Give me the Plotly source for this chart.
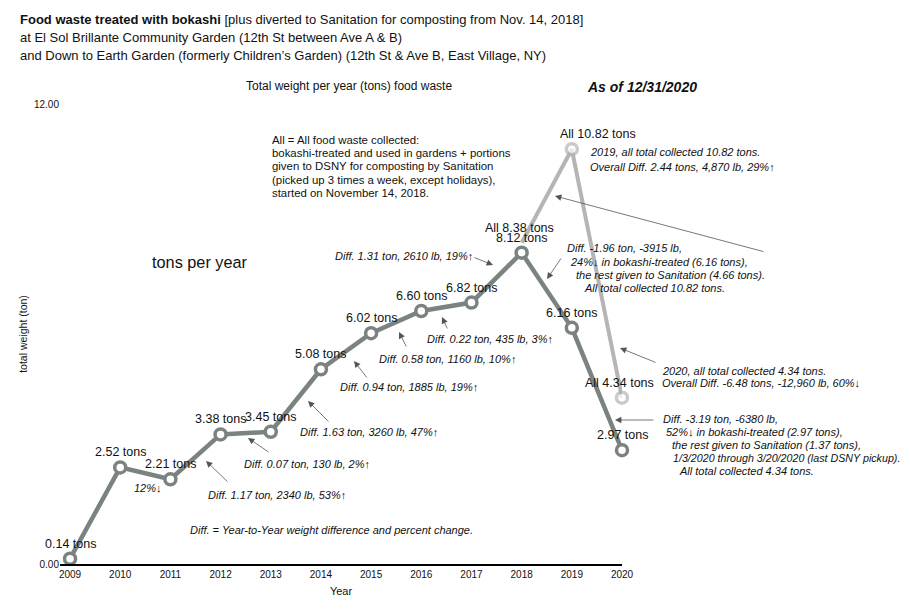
import plotly.graph_objects as go

# ---------------- data ----------------
years = [2009, 2010, 2011, 2012, 2013, 2014, 2015, 2016, 2017, 2018, 2019, 2020]
bokashi_tons = [0.14, 2.52, 2.21, 3.38, 3.45, 5.08, 6.02, 6.60, 6.82, 8.12, 6.16, 2.97]
all_years = [2018, 2019, 2020]
all_tons = [8.38, 10.82, 4.34]
y_ticks = [0, 12]

FONT = "Liberation Sans, Arial, Helvetica, sans-serif"
DARK = "#7b8380"
LIGHT = "#b5b5b5"
ARROW = "#555555"

OFF = 8  # page body margin
W, H = 910 - OFF, 610 - OFF
# pixel geometry of the plot area in window pixels
L, R, T, B = 60, 622, 104, 564
XR = [2008.8, 2020.0]
YR = [0, 12]


def px(x):
    return (x - L) / (R - L)


def py(y):
    return (B - y) / (B - T)


def dx(x):
    return XR[0] + (x - L) / (R - L) * (XR[1] - XR[0])


def dy(y):
    return YR[0] + (B - y) / (B - T) * (YR[1] - YR[0])


fig = go.Figure()

fig.add_trace(go.Scatter(
    x=all_years, y=all_tons, mode="lines+markers",
    line=dict(color=LIGHT, width=4),
    marker=dict(symbol="circle", size=[0, 11, 11], color="white",
                line=dict(color=LIGHT, width=3.5)),
    cliponaxis=False, showlegend=False, hoverinfo="x+y"))

fig.add_trace(go.Scatter(
    x=years, y=bokashi_tons, mode="lines+markers",
    line=dict(color=DARK, width=4.5),
    marker=dict(symbol="circle", size=11, color="white",
                line=dict(color=DARK, width=3.5)),
    cliponaxis=False, showlegend=False, hoverinfo="x+y"))

ann = []
LBL = 12.5

# data labels
for x, v in zip(years, bokashi_tons):
    ann.append(dict(x=x, y=v, xref="x", yref="y", text=f"{v:.2f} tons",
                    showarrow=False, yshift=15, font=dict(size=LBL, color="#111")))
all_xshift = [-2, 26, -3]
for x, v, xs in zip(all_years, all_tons, all_xshift):
    ann.append(dict(x=x, y=v, xref="x", yref="y", text=f"All {v:.2f} tons",
                    showarrow=False, yshift=15, xshift=xs,
                    font=dict(size=LBL, color="#111")))


def txt(x, y, s, size=11, italic=False, bold=False, color="#111"):
    if italic:
        s = f"<i>{s}</i>"
    if bold:
        s = f"<b>{s}</b>"
    ann.append(dict(x=px(x), y=py(y), xref="paper", yref="paper", text=s,
                    showarrow=False, xanchor="left", yanchor="middle",
                    font=dict(size=size, color=color)))


def arrow(x0, y0, x1, y1):
    ann.append(dict(x=dx(x1), y=dy(y1), ax=dx(x0), ay=dy(y0),
                    xref="x", yref="y", axref="x", ayref="y", text="",
                    showarrow=True, arrowhead=2, arrowsize=1.6, arrowwidth=0.8,
                    arrowcolor=ARROW))


# title
txt(18, 20, "<b>Food waste treated with bokashi</b> [plus diverted to Sanitation for composting from Nov. 14, 2018]", 13)
txt(18, 38, "at El Sol Brillante Community Garden (12th St between Ave A & B)", 13)
txt(18, 56, "and Down to Earth Garden (formerly Children’s Garden) (12th St & Ave B, East Village, NY)", 13)

txt(244, 86, "Total weight per year (tons) food waste", 12)
txt(585, 87, "As of 12/31/2020", 14, italic=True, bold=True)
txt(150, 262, "tons per year", 16.3)

block = ["All = All food waste collected:",
         "bokashi-treated and used in gardens + portions",
         "given to DSNY for composting by Sanitation",
         "(picked up 3 times a week, except holidays),",
         "started on November 14, 2018."]
for s, yy in zip(block, [140, 153, 166, 180, 193]):
    txt(270, yy, s, 11.4)

txt(588, 152, "2019, all total collected 10.82 tons.", 11, italic=True)
txt(588, 167, "Overall Diff. 2.44 tons, 4,870 lb, 29%↑", 11, italic=True)

txt(333, 256, "Diff. 1.31 ton, 2610 lb, 19%↑", 11, italic=True)
for s, xx, yy in [("Diff. -1.96 ton, -3915 lb,", 565, 248),
                  ("24%↓ in bokashi-treated (6.16 tons),", 568, 262),
                  ("the rest given to Sanitation (4.66 tons).", 574, 275),
                  ("All total collected 10.82 tons.", 582, 288)]:
    txt(xx, yy, s, 11, italic=True)

txt(425, 339, "Diff. 0.22 ton, 435 lb, 3%↑", 11, italic=True)
txt(377, 359, "Diff. 0.58 ton, 1160 lb, 10%↑", 11, italic=True)
txt(338, 387, "Diff. 0.94 ton, 1885 lb, 19%↑", 11, italic=True)
txt(298, 432, "Diff. 1.63 ton, 3260 lb, 47%↑", 11, italic=True)
txt(242, 464, "Diff. 0.07 ton, 130 lb, 2%↑", 11, italic=True)
txt(206, 495, "Diff. 1.17 ton, 2340 lb, 53%↑", 11, italic=True)
txt(132, 488, "12%↓", 11, italic=True)
txt(188, 530, "Diff. = Year-to-Year weight difference and percent change.", 11, italic=True)

txt(660, 371, "2020, all total collected 4.34 tons.", 11, italic=True)
txt(660, 383, "Overall Diff. -6.48 tons, -12,960 lb, 60%↓", 11, italic=True)
for s, xx, yy, fs in [("Diff. -3.19 ton, -6380 lb,", 661, 419, 11),
                      ("52%↓ in bokashi-treated (2.97 tons),", 664, 432, 11),
                      ("the rest given to Sanitation (1.37 tons),", 670, 445, 11),
                      ("1/3/2020 through 3/20/2020 (last DSNY pickup).", 671, 458, 10.7),
                      ("All total collected 4.34 tons.", 677, 471, 11)]:
    txt(xx, yy, s, fs, italic=True)

# arrows
arrow(229, 483, 206, 461)
arrow(270, 453, 248, 438)
arrow(330, 423, 308, 401)
arrow(368, 379, 354, 361)
arrow(407, 348, 399, 332)
arrow(448, 330, 442, 317)
arrow(473, 257, 493, 265)
arrow(562, 257, 547, 279)
arrow(765, 252, 555, 196)
arrow(657, 363, 620, 348)
arrow(655, 420, 615, 420)

shapes = [dict(type="line", xref="x", yref="y", x0=dx(750), y0=dy(268),
               x1=dx(765), y1=dy(252), line=dict(color=ARROW, width=0.8))]

fig.update_layout(
    width=W, height=H,
    margin=dict(l=L - OFF, r=W - (R - OFF), t=T - OFF, b=H - (B - OFF)),
    paper_bgcolor="white", plot_bgcolor="white",
    font=dict(family=FONT, color="#111"),
    annotations=ann, shapes=shapes,
    xaxis=dict(range=XR, tickvals=years, ticks="", showgrid=False,
               showline=True, linecolor="black", linewidth=1.5, zeroline=False,
               tickfont=dict(size=10), title=dict(text="Year", font=dict(size=11), standoff=9)),
    yaxis=dict(range=YR, tickvals=y_ticks, tickformat=".2f", ticks="",
               showgrid=True, gridcolor="#e8e8e8", zeroline=False, showline=False,
               tickfont=dict(size=10),
               title=dict(text="total weight (ton)", font=dict(size=10.5), standoff=4)),
)

fig.write_html("out.html")
